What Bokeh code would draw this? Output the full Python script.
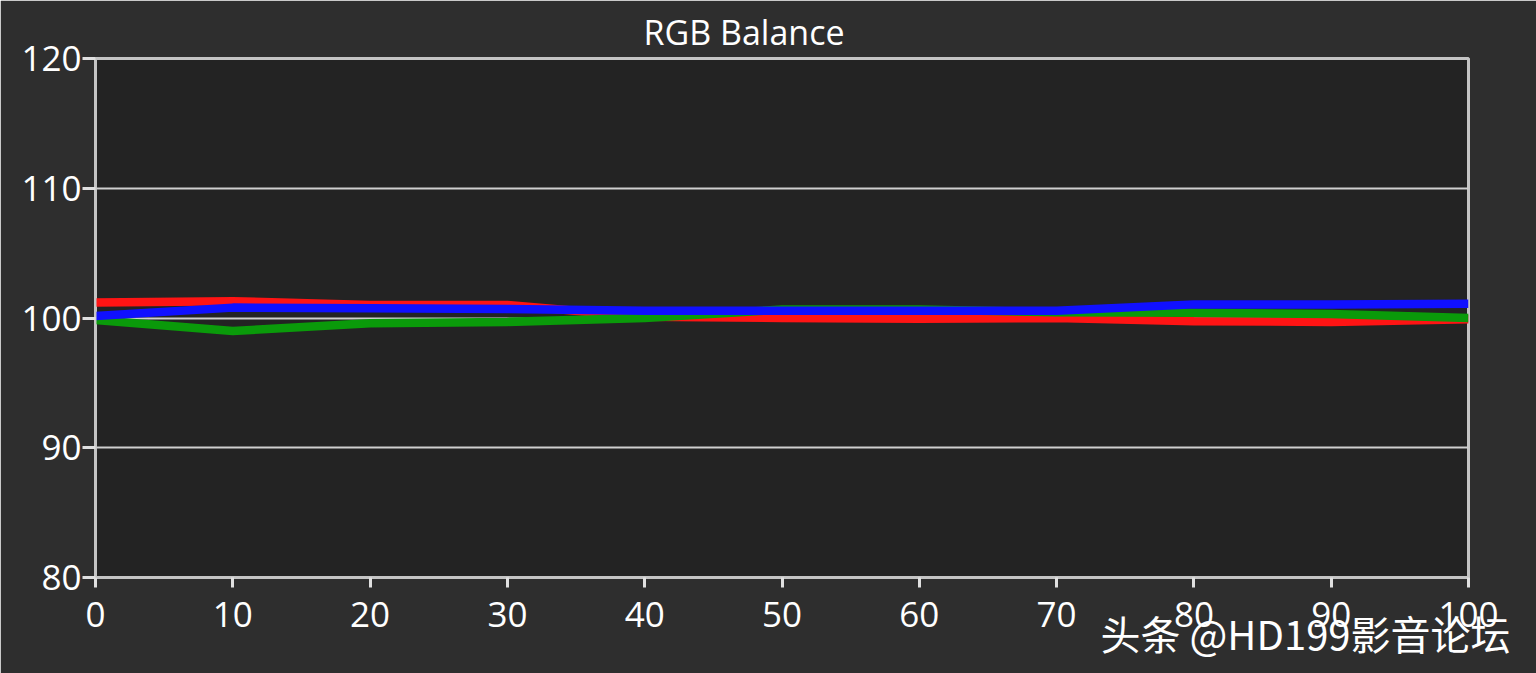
from bokeh.plotting import figure
from bokeh.models import Range1d, FixedTicker, Title
from bokeh.embed import file_html
from bokeh.resources import INLINE

x_vals = [0, 10, 20, 30, 40, 50, 60, 70, 80, 90, 100]
red_vals = [101.2, 101.3, 101.0, 101.0, 100.1, 100.0, 99.95, 100.0, 99.75, 99.7, 99.9]
green_vals = [99.85, 99.0, 99.6, 99.7, 100.0, 100.65, 100.65, 100.45, 100.4, 100.3, 100.0]
blue_vals = [100.15, 100.8, 100.75, 100.7, 100.55, 100.55, 100.55, 100.55, 101.05, 101.05, 101.1]
x_ticks = [0, 10, 20, 30, 40, 50, 60, 70, 80, 90, 100]
y_ticks = [80, 90, 100, 110, 120]
title_text = "RGB Balance"
watermark_text = "头条 @HD199影音论坛"

FONT = "Open Sans"

p = figure(width=1536, height=673, x_range=Range1d(0, 100), y_range=Range1d(80, 120),
           output_backend="svg", toolbar_location=None,
           min_border_left=95, min_border_right=68, min_border_top=58, min_border_bottom=96)

p.background_fill_color = "#232323"
p.border_fill_color = "#2e2e2e"
p.outline_line_color = "#c4c4c4"
p.outline_line_width = 3

p.title.text = title_text
p.title.align = "left"
p.title.offset = 548
p.title.text_color = "#ffffff"
p.title.text_font = FONT
p.title.text_font_size = "34px"
p.title.text_font_style = "normal"
p.title.standoff = 7

p.xgrid.grid_line_color = None
p.ygrid.grid_line_color = "#cfcfcf"
p.ygrid.grid_line_width = 2
p.ygrid.ticker = FixedTicker(ticks=[90, 100, 110])

for ax in (p.xaxis[0], p.yaxis[0]):
    ax.axis_line_color = "#c4c4c4"
    ax.axis_line_width = 2
    ax.major_tick_line_color = "#e0e0e0"
    ax.major_tick_line_width = 3
    ax.minor_tick_line_color = None
    ax.major_label_text_color = "#ffffff"
    ax.major_label_text_font = FONT
    ax.major_label_text_font_size = "35px"

p.xaxis.ticker = FixedTicker(ticks=x_ticks)
p.yaxis.ticker = FixedTicker(ticks=y_ticks)
p.xaxis.major_tick_in = 0
p.xaxis.major_tick_out = 10
p.xaxis.major_label_standoff = 14
p.yaxis.major_tick_in = 0
p.yaxis.major_tick_out = 13
p.yaxis.major_label_standoff = 1

p.line(x_vals, red_vals, line_color="#ff1414", line_width=8.5)
p.line(x_vals, green_vals, line_color="#0a9a0a", line_width=8.5)
p.line(x_vals, blue_vals, line_color="#1010ff", line_width=8.5)

wm = Title(text=watermark_text, align="left", offset=1005, standoff=-64,
           text_color="#ffffff", text_font="Noto Sans CJK SC",
           text_font_size="40px", text_font_style="normal")
p.add_layout(wm, "below")

open("out.html", "w").write(file_html(p, INLINE))
